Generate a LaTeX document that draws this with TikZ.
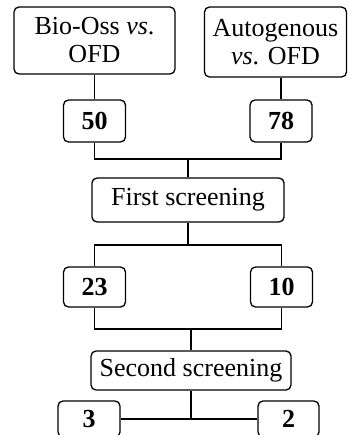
\documentclass[tikz,border=0pt]{standalone}
\usepackage{fontspec}
\setmainfont{Liberation Serif}
\begin{document}
\begin{tikzpicture}[x=1pt,y=1pt,
  box/.style={draw, line width=1.3pt, rounded corners=5pt, inner sep=0pt, align=center,
    font=\fontsize{26}{28}\selectfont},
  numbox/.style={box, font=\fontsize{26}{28}\selectfont\bfseries, minimum width=62pt},
  conn/.style={line width=1.1pt}]
\clip (0,0) rectangle (348,-435);
\fill[white] (0,0) rectangle (348,-435);
\node[box, minimum width=161pt, minimum height=67pt] (b1) at (94.5,-40.5) {Bio-Oss \textit{vs}.\\OFD};
\node[box, minimum width=142pt, minimum height=70pt] (b2) at (275.5,-42) {Autogenous\\\textit{vs}. OFD};
\node[numbox, minimum height=42pt] (n50) at (94.5,-121) {50};
\node[numbox, minimum height=42pt] (n78) at (281,-121) {78};
\node[box, minimum width=192pt, minimum height=44pt] (fs) at (188,-200) {First screening};
\node[numbox, minimum height=40pt] (n23) at (94.5,-287) {23};
\node[numbox, minimum height=40pt] (n10) at (281.5,-287) {10};
\node[box, minimum width=200pt, minimum height=39pt] (ss) at (191,-370.5) {Second screening};
\node[numbox, minimum height=36pt] (n3) at (89,-419) {3};
\node[numbox, minimum height=36pt, minimum width=61pt] (n2) at (288.5,-419) {2};
\coordinate (j1) at (188,-159);
\coordinate (j2) at (188,-245);
\coordinate (j3) at (191,-329);
\draw[conn] (b1.south -| n50.north) -- (n50.north);
\draw[conn] (b2.south -| n78.north) -- (n78.north);
\draw[conn] (n50.south) |- (j1) -| (n78.south);
\draw[conn] (j1) -- (fs.north -| j1);
\draw[conn] (fs.south) -- (j2);
\draw[conn] (n23.north) |- (j2) -| (n10.north);
\draw[conn] (n23.south) |- (j3) -| (n10.south);
\draw[conn] (j3) -- (ss.north -| j3);
\draw[conn] (n3.east) -- (n2.west);
\draw[conn] (ss.south) -- (ss.south |- n3.east);
\end{tikzpicture}
\end{document}
